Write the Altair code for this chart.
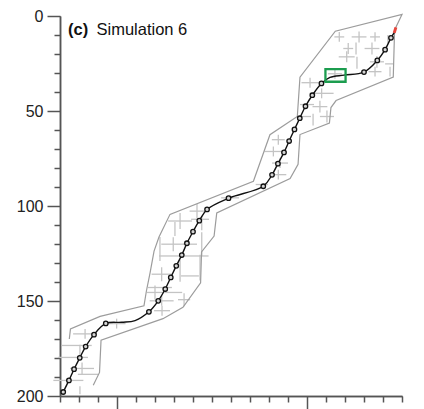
import altair as alt
import pandas as pd

# ---- data ----
track_x = [71.7, 74.7, 77.4, 80.4, 83.5, 87.9, 94.1, 102.5, 109.5, 116.8, 121.7, 125.4, 128.3, 131.2,
           134.1, 136.8, 140.0, 143.3, 147.4, 158.7, 177.0, 181.6, 184.7, 187.9, 190.6, 193.4,
           196.2, 199.2, 202.8, 207.6, 212.1, 219.5, 230.0, 237.0, 241.1, 244.2, 246.0]
track_y = [197.9, 191.8, 185.9, 179.9, 174.0, 167.7, 161.8, 161.2, 160.3, 155.7, 149.9, 143.7, 137.6,
           131.5, 125.8, 119.6, 113.5, 107.7, 101.8, 95.9, 89.6, 83.6, 77.7, 71.8, 65.8, 59.7,
           53.8, 47.5, 41.7, 35.5, 32.3, 31.1, 29.5, 23.4, 17.7, 11.5, 8.6]
marked = [1, 1, 1, 1, 1, 1, 1, 0, 0, 1, 1, 1, 1, 1, 1, 1, 1, 1, 1, 1, 1, 1, 1, 1, 1, 1, 1, 1, 1, 1,
          0, 0, 1, 1, 1, 1, 0]

poly_x = [74.9, 75.5, 91.1, 114.2, 115.5, 117.4, 119.5, 122.1, 127.9, 171.8, 180.5, 194.9, 196.3,
          214.9, 250.0, 246.1, 245.4, 215.3, 212.6, 211.8, 196.3, 195.3, 191.1, 152.5, 151.1,
          144.5, 144.0, 134.7, 124.2, 91.6, 90.8, 87.5]
poly_y = [170.0, 164.7, 158.1, 152.5, 144.6, 135.2, 123.7, 116.3, 104.4, 87.0, 62.5, 52.9, 32.2,
          8.0, -0.8, 7.3, 32.2, 44.5, 48.2, 56.3, 62.4, 78.1, 85.6, 103.6, 115.8, 124.2, 140.4,
          153.3, 159.3, 170.6, 187.6, 194.4]

cross_x = [217.0, 227.4, 235.8, 242.6, 221.7, 225.8, 234.2, 220.9, 226.3, 236.8, 243.2, 235.8, 243.7,
           214.7, 201.6, 207.7, 200.0, 206.8, 198.9, 210.5, 203.2, 184.9, 182.3, 185.8, 184.9, 176.2,
           159.5, 142.1, 143.7, 144.6, 130.5, 133.2, 122.6, 129.6, 138.4, 144.6, 127.9, 141.9, 133.2,
           138.4, 123.5, 143.7, 122.6, 120.0, 129.6, 135.3, 123.7, 123.5, 99.8, 83.2, 78.8, 80.5,
           76.8, 81.6, 74.4, 80.5, 84.7]
cross_y = [11.0, 11.0, 11.0, 12.1, 17.1, 17.1, 17.1, 21.5, 24.6, 24.1, 25.2, 29.3, 29.3, 30.4, 35.1,
           40.7, 46.6, 47.7, 52.9, 52.9, 54.5, 65.1, 71.3, 77.4, 83.5, 88.7, 95.7, 102.7, 107.0,
           109.0, 112.1, 107.9, 122.6, 120.1, 120.1, 120.1, 126.3, 126.3, 134.1, 136.8, 135.9,
           132.4, 142.9, 145.5, 145.5, 149.3, 155.1, 149.9, 161.9, 167.3, 173.4, 176.1, 179.7,
           185.5, 191.8, 197.0, 188.6]
half_w = [2.6, 3.9, 2.6, 0, 2.6, 0, 3.9, 4.2, 0, 3.7, 2.1, 3.4, 0, 3.7, 4.5, 6.3, 3.7, 3.9, 3.2, 3.7,
          0, 3.4, 4.7, 4.2, 4.2, 3.2, 4.7, 3.9, 4.7, 0, 0, 6.3, 0, 6.3, 3.7, 0, 5.8, 6.3, 0, 4.7,
          5.3, 0, 6.3, 4.2, 4.7, 3.2, 4.2, 6.3, 4.7, 6.3, 7.9, 0, 7.9, 6.3, 7.9, 0, 5.3]
half_h = [2.6, 2.9, 2.4, 2.1, 2.9, 3.1, 3.1, 2.9, 3.1, 3.1, 0, 2.6, 2.6, 2.6, 2.6, 2.6, 0, 3.1, 0,
          3.1, 3.1, 2.6, 2.6, 2.6, 2.6, 0, 1.6, 3.7, 0, 3.7, 3.7, 4.2, 6.3, 3.7, 0, 6.3, 0, 0, 5.8,
          0, 3.7, 6.8, 0, 3.7, 0, 3.4, 2.6, 2.6, 2.6, 2.6, 0, 3.1, 0, 3.1, 0, 2.1, 0]

box_x = [209.7, 220.3]
box_y = [28.0, 34.6]
red_x = [245.9, 246.8]
red_y = [8.9, 6.0]

x_major = [100, 200]
x_minor = [v for v in range(70, 251, 10) if v not in x_major]
y_major = [0, 50, 100, 150, 200]
y_minor = [v for v in range(0, 201, 10) if v not in y_major]

# ---- tables ----
track = pd.DataFrame({"x": track_x, "y": track_y, "m": marked, "o": range(len(track_x))})
poly = pd.DataFrame({"x": poly_x, "y": poly_y, "o": range(len(poly_x))})
cr = pd.DataFrame({"cx": cross_x, "cy": cross_y, "hw": half_w, "hh": half_h})
hz = cr[cr.hw > 0].assign(x1=lambda d: d.cx - d.hw, x2=lambda d: d.cx + d.hw)
vt = cr[cr.hh > 0].assign(y1=lambda d: d.cy - d.hh, y2=lambda d: d.cy + d.hh)
box = pd.DataFrame({"x": [box_x[0]], "x2": [box_x[1]], "y": [box_y[0]], "y2": [box_y[1]]})
red = pd.DataFrame({"x": red_x, "y": red_y, "o": [0, 1]})

FONT = "Liberation Sans"
AX = "#555555"
xs = alt.Scale(domain=[70, 250], nice=False, zero=False)
ys = alt.Scale(domain=[0, 200], reverse=True, nice=False, zero=False)

common = dict(title=None, grid=False, tickColor=AX, domainColor=AX, tickWidth=1.5, domainWidth=1.5)
x_axis_major = alt.Axis(values=x_major, labels=False, tickSize=13, orient="bottom", **common)
x_axis_minor = alt.Axis(values=x_minor, labels=False, tickSize=6, orient="bottom", **common)
y_axis_major = alt.Axis(values=y_major, tickSize=13, orient="left", labelFont=FONT,
                        labelFontSize=16, labelColor="#222222", labelPadding=4, **common)
y_axis_minor = alt.Axis(values=y_minor, labels=False, tickSize=6, orient="left", **common)

hrules = alt.Chart(hz).mark_rule(color="#c4c4c4", strokeWidth=1.3).encode(
    x=alt.X("x1:Q", scale=xs, axis=x_axis_major), x2="x2:Q",
    y=alt.Y("cy:Q", scale=ys, axis=y_axis_major))
vrules = alt.Chart(vt).mark_rule(color="#c4c4c4", strokeWidth=1.3).encode(
    x=alt.X("cx:Q", scale=xs, axis=x_axis_minor),
    y=alt.Y("y1:Q", scale=ys, axis=y_axis_minor), y2="y2:Q")
outline = alt.Chart(poly).mark_line(color="#9c9c9c", strokeWidth=1.2).encode(
    x=alt.X("x:Q", scale=xs, axis=None), y=alt.Y("y:Q", scale=ys, axis=None), order="o:Q")
path = alt.Chart(track).mark_line(color="#111111", strokeWidth=1.4, interpolate="catmull-rom").encode(
    x=alt.X("x:Q", scale=xs, axis=None), y=alt.Y("y:Q", scale=ys, axis=None), order="o:Q")
marks = alt.Chart(track[track.m == 1]).mark_point(
    shape="circle", size=20, stroke="#111111", strokeWidth=1.3, fill="#d6d6d6",
    fillOpacity=1, opacity=1).encode(
    x=alt.X("x:Q", scale=xs, axis=None), y=alt.Y("y:Q", scale=ys, axis=None))
rect = alt.Chart(box).mark_rect(fillOpacity=0, stroke="#1c9d4f", strokeWidth=2.3).encode(
    x=alt.X("x:Q", scale=xs, axis=None), x2="x2:Q",
    y=alt.Y("y:Q", scale=ys, axis=None), y2="y2:Q")
redseg = alt.Chart(red).mark_line(color="#e8453c", strokeWidth=3).encode(
    x=alt.X("x:Q", scale=xs, axis=None), y=alt.Y("y:Q", scale=ys, axis=None), order="o:Q")

lab = pd.DataFrame({"t": ["(c)"]})
t1 = alt.Chart(lab).mark_text(text="(c)", fontWeight="bold", font=FONT, fontSize=16.5,
                              align="left", baseline="alphabetic", color="#111111").encode(
    x=alt.value(8), y=alt.value(18.5))
t2 = alt.Chart(lab).mark_text(text="Simulation 6", font=FONT, fontSize=16.5,
                              align="left", baseline="alphabetic", color="#111111").encode(
    x=alt.value(36.5), y=alt.value(18.5))

chart = alt.layer(hrules, vrules, outline, path, marks, rect, redseg, t1, t2).resolve_axis(
    x="independent", y="independent"
).properties(
    width=342, height=380,
    autosize=alt.AutoSizeParams(type="none"),
    padding={"left": 52, "top": 8, "right": 14, "bottom": 15},
).configure_view(strokeWidth=0)

chart.save("out.html", embed_options={"renderer": "svg", "actions": False})
